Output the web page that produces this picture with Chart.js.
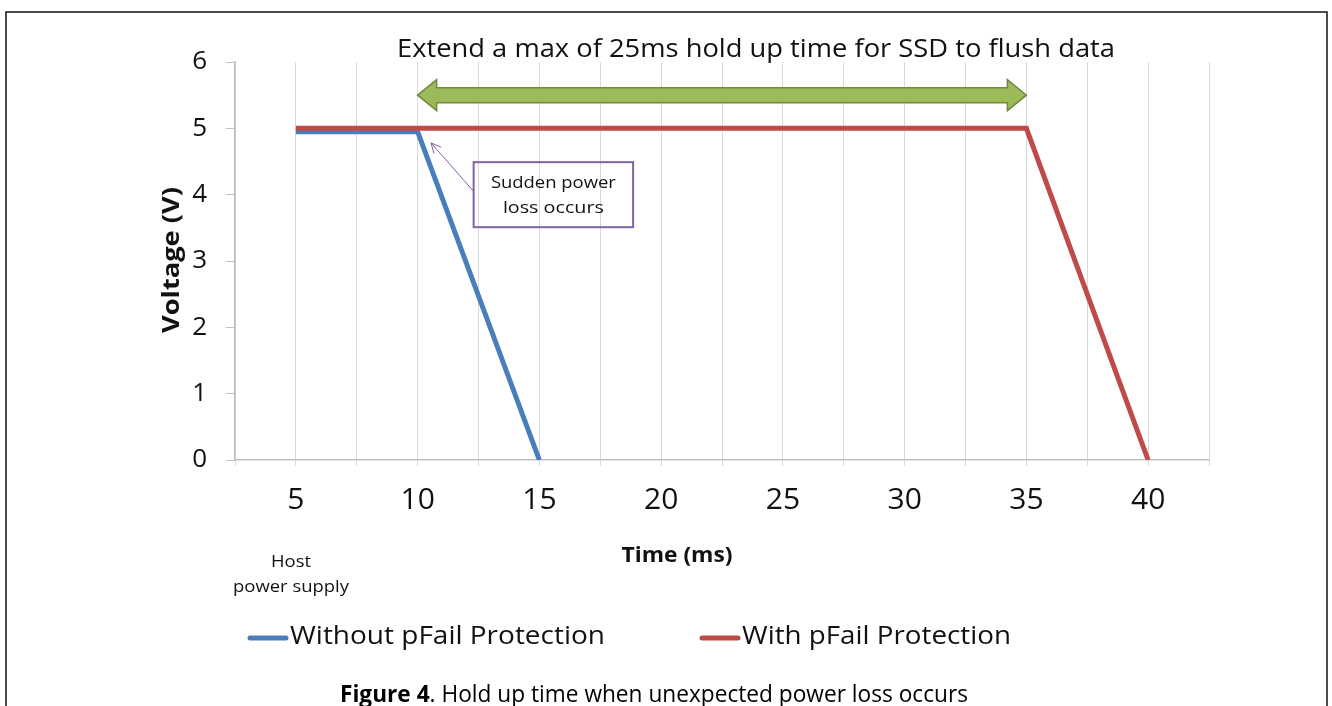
<!DOCTYPE html>
<html>
<head>
<meta charset="utf-8">
<script src="https://cdn.jsdelivr.net/npm/chart.js@4.4.1/dist/chart.umd.min.js"></script>
<style>
	html, body { margin: 0; padding: 0; background: #fff; }
	#wrap { width: 1332px; height: 706px; position: relative; }
</style>
</head>
<body>
<div id="wrap"><canvas id="holdup-chart" width="1332" height="706"></canvas></div>
<script>
// time (ms) / voltage (V)
var timeWithout = [5, 10, 15];
var voltWithout = [4.95, 4.95, 0];
var timeWith = [5, 35, 40];
var voltWith = [5, 5, 0];
var xTickLabels = [5, 10, 15, 20, 25, 30, 35, 40];
var yTickLabels = [0, 1, 2, 3, 4, 5, 6];
var seriesNames = ['Without pFail Protection', 'With pFail Protection'];
var seriesColors = ['#4a7ebb', '#be4b48'];

var FONT = '"Open Sans", Lato, sans-serif';

function toPoints(xs, ys) {
	var pts = [];
	for (var i = 0; i < xs.length; i++) {
		pts.push({ x: xs[i], y: ys[i] });
	}
	return pts;
}

// draws text squeezed/stretched to a given width (Calibri-ish look)
function fitText(ctx, text, cx, cy, width, font) {
	ctx.save();
	ctx.font = font;
	var w = ctx.measureText(text).width;
	var k = width / w;
	ctx.translate(cx, cy);
	ctx.scale(k, 1);
	ctx.textAlign = 'center';
	ctx.textBaseline = 'middle';
	ctx.fillText(text, 0, 0);
	ctx.restore();
}

function drawDoubleArrow(ctx, x1, x2, y) {
	var shaft = 7.5, head = 15.5, headLen = 19;
	ctx.save();
	ctx.beginPath();
	ctx.moveTo(x1, y);
	ctx.lineTo(x1 + headLen, y - head);
	ctx.lineTo(x1 + headLen, y - shaft);
	ctx.lineTo(x2 - headLen, y - shaft);
	ctx.lineTo(x2 - headLen, y - head);
	ctx.lineTo(x2, y);
	ctx.lineTo(x2 - headLen, y + head);
	ctx.lineTo(x2 - headLen, y + shaft);
	ctx.lineTo(x1 + headLen, y + shaft);
	ctx.lineTo(x1 + headLen, y + head);
	ctx.closePath();
	ctx.fillStyle = '#9bbb59';
	ctx.fill();
	ctx.strokeStyle = '#71893f';
	ctx.lineWidth = 1.5;
	ctx.stroke();
	ctx.restore();
}

var extrasPlugin = {
	id: 'extras',
	beforeDraw: function(chart) {
		var ctx = chart.ctx;
		ctx.save();
		ctx.fillStyle = '#fff';
		ctx.fillRect(0, 0, chart.width, chart.height);
		ctx.strokeStyle = '#111';
		ctx.lineWidth = 1.5;
		ctx.strokeRect(6, 12, 1321, 720);
		ctx.restore();
	},
	afterDraw: function(chart) {
		var ctx = chart.ctx;
		var xs = chart.scales.x, ys = chart.scales.y;
		ctx.save();
		ctx.fillStyle = '#111';

		// heading above the arrow
		fitText(ctx, 'Extend a max of 25ms hold up time for SSD to flush data', 756, 50, 718, '25px ' + FONT);
		drawDoubleArrow(ctx, xs.getPixelForValue(10), xs.getPixelForValue(35), ys.getPixelForValue(5.5));

		// callout box
		var bx1 = xs.getPixelForValue(12.3), bx2 = xs.getPixelForValue(18.85);
		var by1 = ys.getPixelForValue(4.49), by2 = ys.getPixelForValue(3.51);
		ctx.strokeStyle = '#8064a2';
		ctx.lineWidth = 2;
		ctx.strokeRect(bx1, by1, bx2 - bx1, by2 - by1);
		fitText(ctx, 'Sudden power', (bx1 + bx2) / 2, by1 + 21, 125, '17px ' + FONT);
		fitText(ctx, 'loss occurs', (bx1 + bx2) / 2, by1 + 46, 101, '17px ' + FONT);

		// callout pointer
		var px = xs.getPixelForValue(10.55), py = ys.getPixelForValue(4.78);
		var sx = bx1, sy = ys.getPixelForValue(4.05);
		var ang = Math.atan2(py - sy, px - sx);
		ctx.lineWidth = 1;
		ctx.beginPath();
		ctx.moveTo(sx, sy);
		ctx.lineTo(px, py);
		ctx.moveTo(px - 11 * Math.cos(ang - 0.45), py - 11 * Math.sin(ang - 0.45));
		ctx.lineTo(px, py);
		ctx.lineTo(px - 11 * Math.cos(ang + 0.45), py - 11 * Math.sin(ang + 0.45));
		ctx.stroke();

		// axis titles
		fitText(ctx, 'Time (ms)', 677, 556, 111, 'bold 22px ' + FONT);
		ctx.save();
		ctx.translate(172, 260);
		ctx.rotate(-Math.PI / 2);
		fitText(ctx, 'Voltage (V)', 0, 0, 146, 'bold 24px ' + FONT);
		ctx.restore();

		fitText(ctx, 'Host', 291, 562, 40, '17px ' + FONT);
		fitText(ctx, 'power supply', 291, 587, 116, '17px ' + FONT);

		// legend
		var legX = [248, 700];
		var legW = [315, 269];
		for (var i = 0; i < seriesNames.length; i++) {
			ctx.strokeStyle = seriesColors[i];
			ctx.lineWidth = 5;
			ctx.lineCap = 'round';
			ctx.beginPath();
			ctx.moveTo(legX[i] + 2, 638);
			ctx.lineTo(legX[i] + 38, 638);
			ctx.stroke();
			fitText(ctx, seriesNames[i], legX[i] + 42 + legW[i] / 2, 637, legW[i], '26px ' + FONT);
		}

		// caption
		ctx.font = 'bold 23px ' + FONT;
		var wBold = ctx.measureText('Figure 4').width;
		ctx.font = '23px ' + FONT;
		var wRest = ctx.measureText('. Hold up time when unexpected power loss occurs').width;
		var k = 628 / (wBold + wRest);
		ctx.save();
		ctx.translate(340, 695);
		ctx.scale(k, 1);
		ctx.textAlign = 'left';
		ctx.textBaseline = 'middle';
		ctx.fillStyle = '#000';
		ctx.font = 'bold 23px ' + FONT;
		ctx.fillText('Figure 4', 0, 0);
		ctx.font = '23px ' + FONT;
		ctx.fillText('. Hold up time when unexpected power loss occurs', wBold, 0);
		ctx.restore();

		ctx.restore();
	}
};

var ctx = document.getElementById('holdup-chart').getContext('2d');
var chart = new Chart(ctx, {
	type: 'line',
	data: {
		datasets: [
			{
				label: seriesNames[0],
				data: toPoints(timeWithout, voltWithout),
				borderColor: seriesColors[0],
				backgroundColor: seriesColors[0],
				borderWidth: 5,
				pointRadius: 0,
				fill: false,
				order: 2
			},
			{
				label: seriesNames[1],
				data: toPoints(timeWith, voltWith),
				borderColor: seriesColors[1],
				backgroundColor: seriesColors[1],
				borderWidth: 5,
				pointRadius: 0,
				fill: false,
				order: 1
			}
		]
	},
	options: {
		responsive: false,
		animation: false,
		layout: { padding: { left: 160, right: 123, top: 62, bottom: 186 } },
		plugins: {
			legend: { display: false },
			title: { display: false },
			tooltip: { enabled: false }
		},
		scales: {
			x: {
				type: 'linear',
				min: 2.5,
				max: 42.5,
				afterBuildTicks: function(scale) {
					var t = [];
					for (var v = 2.5; v <= 42.5; v += 2.5) t.push({ value: v });
					scale.ticks = t;
				},
				afterFit: function(scale) { scale.height = 60; },
				ticks: {
					autoSkip: false,
					maxRotation: 0,
					padding: 16,
					color: '#111',
					font: { family: FONT, size: 30 },
					callback: function(v) {
						return xTickLabels.indexOf(v) >= 0 ? String(v) : '';
					}
				},
				grid: { color: '#d9d9d9', lineWidth: 1, tickLength: 6, drawOnChartArea: true },
				border: { color: '#bfbfbf', width: 1.5 }
			},
			y: {
				min: 0,
				max: 6,
				afterBuildTicks: function(scale) {
					scale.ticks = yTickLabels.map(function(v) { return { value: v }; });
				},
				afterFit: function(scale) { scale.width = 75; },
				ticks: {
					padding: 19,
					color: '#111',
					font: { family: FONT, size: 26 }
				},
				grid: { drawOnChartArea: false, color: '#bfbfbf', tickLength: 9 },
				border: { color: '#bfbfbf', width: 1.5 }
			}
		}
	},
	plugins: [extrasPlugin]
});
</script>
</body>
</html>
